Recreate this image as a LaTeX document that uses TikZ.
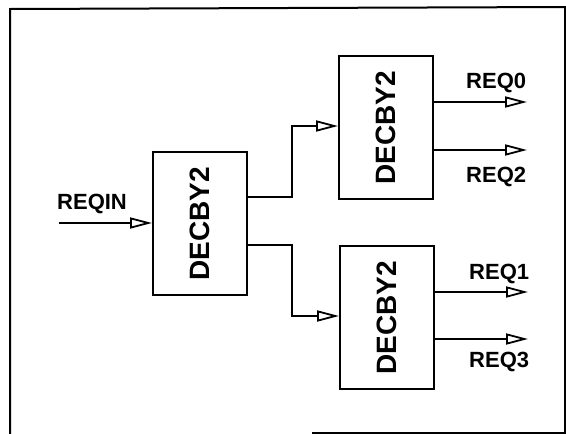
\documentclass[tikz,border=0pt]{standalone}
\usepackage{fontspec}
\setmainfont{Liberation Sans}
\usetikzlibrary{arrows.meta}
\begin{document}
\begin{tikzpicture}[x=1pt,y=-1pt,
  frame/.style={line width=2pt},
  blk/.style={draw, line width=2.2pt, minimum width=94pt, minimum height=143pt, inner sep=0pt, anchor=north west},
  wire/.style={line width=2.2pt, -{Triangle[open, length=22pt, width=11pt, line width=1.8pt]}},
  lbl/.style={font=\bfseries\fontsize{22}{22}\selectfont, inner sep=0pt, anchor=west},
  blktxt/.style={font=\bfseries\fontsize{28}{28}\selectfont, rotate=90, inner sep=0pt}
]
\useasboundingbox (0,0) rectangle (566,434);
% frame
\draw[frame] (566,7) -- (10,9) -- (10,434);
\draw[frame] (564.5,7) -- (564.5,434);
\draw[frame] (312,433) -- (566,433);
% blocks
\node[blk] (b1) at (152,151) {};
\node[blk] (b2) at (338,55) {};
\node[blk] (b3) at (339,245) {};
\node[blktxt] (t1) at (b1.center) {DECBY2};
\node[blktxt] (t2) at (b2.center) {DECBY2};
\node[blktxt] (t3) at (b3.center) {DECBY2};
% coordinates
\coordinate (in) at (59,223);
\coordinate (o1) at (292,197);
\coordinate (i2) at (292,126);
\coordinate (o2) at (292,245);
\coordinate (i3) at (292,316);
\coordinate (r0) at (527,102);
\coordinate (r2) at (527,150);
\coordinate (r1) at (528,292);
\coordinate (r3) at (528,339);
% connectors
\draw[wire] (in) -- (in -| b1.west);
\draw[wire] (b1.east |- o1) -- (o1) -- (i2) -- (i2 -| b2.west);
\draw[wire] (b1.east |- o2) -- (o2) -- (i3) -- (i3 -| b3.west);
\draw[wire] (b2.east |- r0) -- (r0);
\draw[wire] (b2.east |- r2) -- (r2);
\draw[wire] (b3.east |- r1) -- (r1);
\draw[wire] (b3.east |- r3) -- (r3);
% labels
\node[lbl] (lin) at (57,204) {REQIN};
\node[lbl] (l0) at (466,83) {REQ0};
\node[lbl] (l2) at (466,177) {REQ2};
\node[lbl] (l1) at (469,274) {REQ1};
\node[lbl] (l3) at (469,362) {REQ3};
\end{tikzpicture}
\end{document}
